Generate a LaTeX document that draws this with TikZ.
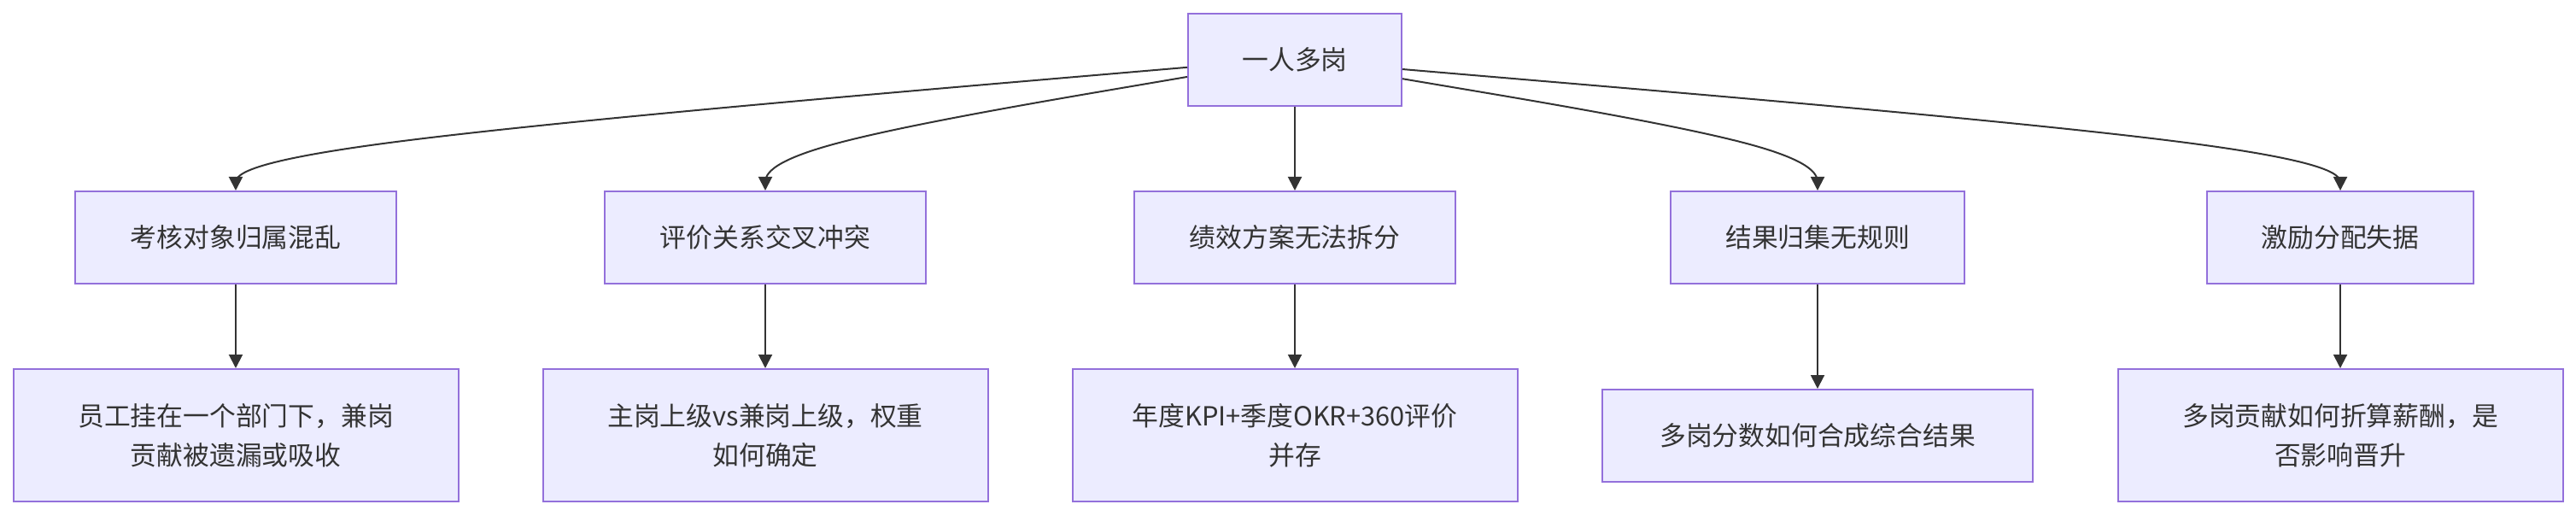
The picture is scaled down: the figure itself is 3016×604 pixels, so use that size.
\documentclass[tikz,border=0pt]{standalone}
\usepackage{fontspec}
\newfontfamily\cjk{Noto Sans CJK SC}
\usetikzlibrary{arrows.meta,calc}
\definecolor{nodefill}{HTML}{ECECFF}
\definecolor{nodeborder}{HTML}{9370DB}
\definecolor{edgecol}{HTML}{333333}
\definecolor{txtcol}{HTML}{333333}
\newcommand\basisedge[3]{%
  \draw[conn] (#1) -- ($(#1)!0.166667!(#2)$)
    .. controls ($(#1)!0.333333!(#2)$) and ($(#1)!0.666667!(#2)$)
    .. ($0.166667*(#1)+0.666667*(#2)+0.166667*(#3)$)
    .. controls ($(#2)!0.333333!(#3)$) and ($(#2)!0.666667!(#3)$)
    .. ($(#2)!0.833333!(#3)$) -- (#3);}
\tikzset{
  box/.style={draw=nodeborder, fill=nodefill, line width=1pt, inner sep=0pt,
    text=txtcol, align=center, font=\cjk\fontsize{15.4}{23}\selectfont,
    minimum height=54pt},
  tallbox/.style={box, minimum height=77.5pt},
  conn/.style={draw=edgecol, line width=1pt, -{Triangle[length=8pt,width=8pt]}},
}
\begin{document}
\begin{tikzpicture}[x=0.5pt,y=-0.5pt]
\useasboundingbox (0,0) rectangle (3016,604);
\node[box, minimum width=125pt] (top) at (1516,70) {一人多岗};
\node[box, minimum width=188pt] (n1) at (276,278) {考核对象归属混乱};
\node[box, minimum width=188pt] (n2) at (896,278) {评价关系交叉冲突};
\node[box, minimum width=188pt] (n3) at (1516,278) {绩效方案无法拆分};
\node[box, minimum width=172pt] (n4) at (2128,278) {结果归集无规则};
\node[box, minimum width=156pt] (n5) at (2740,278) {激励分配失据};
\node[tallbox, minimum width=260.5pt] (b1) at (276,509.5) {员工挂在一个部门下，兼岗\\贡献被遗漏或吸收};
\node[tallbox, minimum width=260.5pt] (b2) at (896,509.5) {主岗上级vs兼岗上级，权重\\如何确定};
\node[tallbox, minimum width=260.5pt] (b3) at (1516,509.5) {年度KPI+季度OKR+360评价\\并存};
\node[box, minimum width=252pt] (b4) at (2128,510) {多岗分数如何合成综合结果};
\node[tallbox, minimum width=260.5pt] (b5) at (2740,509.5) {多岗贡献如何折算薪酬，是\\否影响晋升};
\coordinate (m1) at (276,174);
\coordinate (m2) at (896,174);
\coordinate (m4) at (2128,174);
\coordinate (m5) at (2740,174);
\coordinate (s1) at (top.184.79);
\coordinate (s2) at (top.189.52);
\coordinate (s4) at (top.350.36);
\coordinate (s5) at (top.355.14);
\basisedge{s1}{m1}{n1.north}
\basisedge{s2}{m2}{n2.north}
\basisedge{s4}{m4}{n4.north}
\basisedge{s5}{m5}{n5.north}
\draw[conn] (top.south) -- (n3.north);
\draw[conn] (n1.south) -- (b1.north);
\draw[conn] (n2.south) -- (b2.north);
\draw[conn] (n3.south) -- (b3.north);
\draw[conn] (n4.south) -- (b4.north);
\draw[conn] (n5.south) -- (b5.north);
\end{tikzpicture}
\end{document}
